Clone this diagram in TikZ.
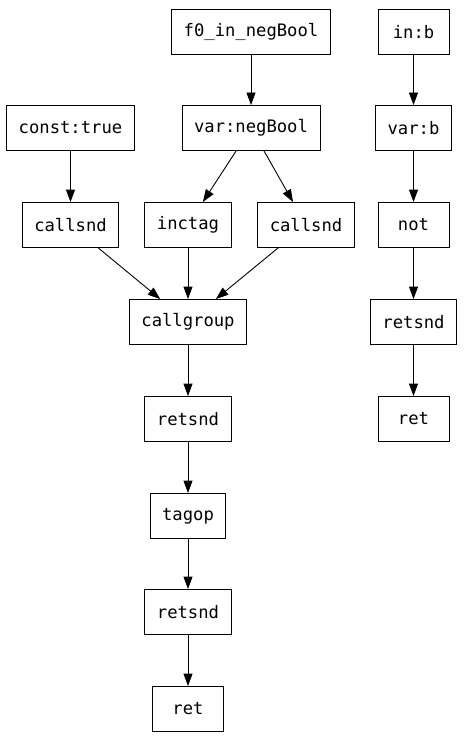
\documentclass[tikz,border=0pt]{standalone}
\usepackage{fontspec}
\setmonofont{DejaVu Sans Mono}
\usetikzlibrary{arrows.meta}
\begin{document}
\begin{tikzpicture}[x=1pt, y=-1pt, font=\ttfamily\fontsize{17.2}{21}\selectfont, every node/.style={draw, fill=white, minimum height=45pt, minimum width=71pt, inner xsep=12pt, line width=0.9pt}, >={Triangle[length=12.5pt, width=9pt]}, line width=0.9pt]
        \useasboundingbox (0, 0) rectangle (464, 741);

        % left tree
        \node (fin) at (251, 32) {f0\_in\_negBool};
        \node (vneg) at (251, 128) {var:negBool};
        \node (ctrue) at (70.5, 128) {const:true};
        \node (csndl) at (70.5, 225) {callsnd};
        \node (inctag) at (188, 225) {inctag};
        \node (csndr) at (306, 225) {callsnd};
        \node (cgroup) at (188, 322) {callgroup};
        \node (rsndA) at (188, 419) {retsnd};
        \node (tagop) at (188, 516) {tagop};
        \node (rsndB) at (188, 612) {retsnd};
        \node (retA) at (188, 709) {ret};

        % right chain
        \node (inb) at (413.5, 32) {in:b};
        \node (varb) at (413.5, 128) {var:b};
        \node (notb) at (413.5, 225) {not};
        \node (rsndC) at (413.5, 322) {retsnd};
        \node (retB) at (413.5, 419) {ret};

        \draw[->] (fin) -- (vneg);
        \draw[->] (vneg) -- (inctag);
        \draw[->] (vneg) -- (csndr);
        \draw[->] (ctrue) -- (csndl);
        \draw[->] (csndl) -- (cgroup);
        \draw[->] (inctag) -- (cgroup);
        \draw[->] (csndr) -- (cgroup);
        \draw[->] (cgroup) -- (rsndA);
        \draw[->] (rsndA) -- (tagop);
        \draw[->] (tagop) -- (rsndB);
        \draw[->] (rsndB) -- (retA);

        \draw[->] (inb) -- (varb);
        \draw[->] (varb) -- (notb);
        \draw[->] (notb) -- (rsndC);
        \draw[->] (rsndC) -- (retB);
    \end{tikzpicture}
\end{document}
